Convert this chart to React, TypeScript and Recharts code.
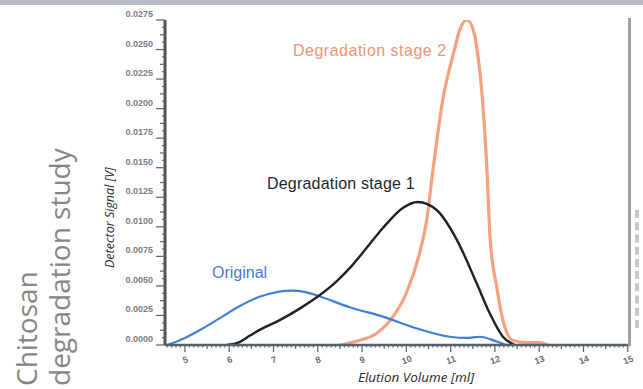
import React from "react";
import { LineChart, Line, XAxis, YAxis } from "recharts";

// elution curves: volume in ml, detector signal in V
const originalVolume = [4.6, 5.0, 5.4, 5.8, 6.24, 6.7, 7.1, 7.4, 7.7, 8.05, 8.72, 9.47, 10.24, 10.98, 11.36, 11.66, 12.04, 12.3, 15];
const originalSignal = [0, 0.0006, 0.0014, 0.0023, 0.0033, 0.0041, 0.0045, 0.0046, 0.0045, 0.0041, 0.0032, 0.0024, 0.0014, 0.0007, 0.0006, 0.0007, 0.0003, 0, 0];

const stage1Volume = [5.95, 6.2, 6.47, 6.7, 7.14, 7.6, 8.0, 8.4, 8.72, 9.1, 9.47, 9.92, 10.26, 10.69, 11.14, 11.59, 11.88, 12.18, 12.45];
const stage1Signal = [0, 0.0002, 0.0008, 0.0013, 0.0021, 0.0031, 0.0041, 0.0053, 0.0065, 0.0082, 0.0099, 0.0116, 0.0121, 0.0114, 0.0089, 0.0052, 0.0027, 0.0007, 0];

const stage2Volume = [8.5, 8.95, 9.33, 9.7, 10.0, 10.3, 10.46, 10.6, 10.82, 11.08, 11.2, 11.37, 11.53, 11.6, 11.72, 11.82, 11.89, 12.04, 12.18, 12.4, 12.7, 13.0, 13.2];
const stage2Signal = [0, 0.0004, 0.001, 0.0024, 0.0044, 0.0078, 0.0106, 0.0148, 0.0207, 0.0249, 0.0266, 0.0275, 0.0264, 0.0249, 0.0207, 0.0148, 0.0091, 0.0049, 0.0021, 0.0004, 0.0002, 0.0002, 0];

const xMajorTicks = [5, 6, 7, 8, 9, 10, 11, 12, 13, 14, 15];
const yMajorTicks = [0, 0.0025, 0.005, 0.0075, 0.01, 0.0125, 0.015, 0.0175, 0.02, 0.0225, 0.025, 0.0275];
const yTickLabels = ["0.0000", "0.0025", "0.0050", "0.0075", "0.0100", "0.0125", "0.0150", "0.0175", "0.0200", "0.0225", "0.0250", "0.0275"];

const toPoints = (xs: number[], ys: number[]) => xs.map((x, i) => ({ x, y: ys[i] }));

const originalData = toPoints(originalVolume, originalSignal);
const stage1Data = toPoints(stage1Volume, stage1Signal);
const stage2Data = toPoints(stage2Volume, stage2Signal);

// ruler-style ticks: 0.1 ml steps on x, quarter steps on y
const xAllTicks: number[] = [];
for (let i = 46; i <= 150; i++) xAllTicks.push(i / 10);
const yAllTicks: number[] = [];
for (let i = 0; i <= 44; i++) yAllTicks.push(Math.round(i * 0.000625 * 1e6) / 1e6);

const near = (a: number, b: number) => Math.abs(a - b) < 1e-7;

function XTick(props: any) {
  const { x, y, payload } = props;
  const v = payload.value as number;
  const major = xMajorTicks.find((t) => near(t, v));
  const half = near(v * 2, Math.round(v * 2));
  const len = major !== undefined ? 7 : half ? 4 : 2.5;
  return (
    <g>
      <line x1={x} y1={y} x2={x} y2={y + len} stroke="#5a6068" strokeWidth={1.2} />
      {major !== undefined && (
        <text
          x={x}
          y={y + 18}
          textAnchor="middle"
          fontSize={9}
          fontFamily="Liberation Sans, Arial, sans-serif"
          fontWeight="bold"
          fill="#6a6e74"
          transform={`rotate(-20 ${x} ${y + 14})`}
        >
          {major}
        </text>
      )}
    </g>
  );
}

function YTick(props: any) {
  const { x, y, payload } = props;
  const v = payload.value as number;
  const idx = yMajorTicks.findIndex((t) => near(t, v));
  const half = near(v / 0.00125, Math.round(v / 0.00125));
  const len = idx >= 0 ? 9 : half ? 5 : 3;
  return (
    <g>
      <line x1={x} y1={y} x2={x - len} y2={y} stroke="#5a6068" strokeWidth={1.2} />
      {idx >= 0 && (
        <text
          x={x - 12}
          y={y - 3}
          textAnchor="end"
          fontSize={9}
          fontFamily="Liberation Sans, Arial, sans-serif"
          fontWeight="bold"
          fill="#7a7e84"
        >
          {yTickLabels[idx]}
        </text>
      )}
    </g>
  );
}

const labelFont = "'Liberation Sans', Arial, sans-serif";

export default function App() {
  return (
    <div
      style={{
        position: "absolute",
        left: 0,
        top: 0,
        width: 643,
        height: 389,
        background: "#ffffff",
        overflow: "hidden",
      }}
    >
      <div style={{ position: "absolute", left: 0, top: 0, width: 643, height: 5, background: "#b9bcc1" }} />

      <LineChart
        width={643}
        height={389}
        margin={{ top: 20, right: 13, bottom: 0, left: 0 }}
        style={{ position: "absolute", left: 0, top: 0 }}
      >
        <XAxis
          dataKey="x"
          type="number"
          domain={[4.55, 15.05]}
          ticks={xAllTicks}
          interval={0}
          tick={<XTick />}
          tickLine={false}
          tickSize={0}
          tickMargin={0}
          height={44}
          axisLine={{ stroke: "#5a6068", strokeWidth: 2.5 }}
          allowDataOverflow
        />
        <XAxis
          xAxisId="top"
          orientation="top"
          type="number"
          domain={[4.55, 15.05]}
          tick={false}
          tickLine={false}
          height={0}
          axisLine={{ stroke: "#a5afb7", strokeWidth: 3.5 }}
        />
        <YAxis
          type="number"
          domain={[0, 0.0275]}
          ticks={yAllTicks}
          interval={0}
          tick={<YTick />}
          tickLine={false}
          tickSize={0}
          tickMargin={0}
          width={165}
          axisLine={{ stroke: "#4d545c", strokeWidth: 3 }}
          allowDataOverflow
        />
        <Line
          data={stage2Data}
          dataKey="y"
          type="monotone"
          stroke="#f4a182"
          strokeWidth={3.2}
          dot={false}
          activeDot={false}
          isAnimationActive={false}
        />
        <Line
          data={originalData}
          dataKey="y"
          type="monotone"
          stroke="#3f80d4"
          strokeWidth={2.2}
          dot={false}
          activeDot={false}
          isAnimationActive={false}
        />
        <Line
          data={stage1Data}
          dataKey="y"
          type="monotone"
          stroke="#1e2226"
          strokeWidth={2.4}
          dot={false}
          activeDot={false}
          isAnimationActive={false}
        />
      </LineChart>

      {/* right edge of the plot frame */}
      <div style={{ position: "absolute", left: 628, top: 18, width: 3, height: 328, background: "#9aa2a8" }} />

      {/* series labels inside the plot */}
      <div style={{ position: "absolute", left: 293, top: 43, fontFamily: labelFont, fontSize: 16, lineHeight: "16px", letterSpacing: 0.5, color: "#f09570", whiteSpace: "nowrap" }}>
        Degradation stage 2
      </div>
      <div style={{ position: "absolute", left: 267, top: 176, fontFamily: labelFont, fontSize: 16, lineHeight: "16px", letterSpacing: 0.2, color: "#23272b", whiteSpace: "nowrap" }}>
        Degradation stage 1
      </div>
      <div style={{ position: "absolute", left: 212, top: 265, fontFamily: labelFont, fontSize: 16, lineHeight: "16px", color: "#4a7ad0", whiteSpace: "nowrap" }}>
        Original
      </div>

      {/* axis titles */}
      <div
        style={{
          position: "absolute",
          left: 102,
          top: 268,
          transform: "rotate(-90deg)",
          transformOrigin: "0 0",
          fontFamily: "'Open Sans', sans-serif",
          fontStyle: "italic",
          fontSize: 12.5,
          lineHeight: "15px",
          color: "#2a2a2a",
          whiteSpace: "nowrap",
        }}
      >
        Detector Signal [V]
      </div>
      <div
        style={{
          position: "absolute",
          left: 266,
          top: 369,
          width: 300,
          textAlign: "center",
          fontFamily: "'Open Sans', sans-serif",
          fontStyle: "italic",
          fontSize: 13.5,
          lineHeight: "17px",
          color: "#2a2a2a",
          whiteSpace: "nowrap",
        }}
      >
        Elution Volume [ml]
      </div>

      {/* side heading */}
      <div
        style={{
          position: "absolute",
          left: 10,
          top: 386,
          transform: "rotate(-90deg)",
          transformOrigin: "0 0",
          fontFamily: "'Open Sans', sans-serif",
          fontSize: 28,
          fontWeight: 500,
          lineHeight: "33px",
          color: "#868686",
          whiteSpace: "pre",
        }}
      >
        {"Chitosan\ndegradation study"}
      </div>

      {/* scanned margin mark at the right edge */}
      <div style={{ position: "absolute", left: 635, top: 210, width: 0, height: 118, borderLeft: "4px dashed #c6c8ca" }} />
    </div>
  );
}
